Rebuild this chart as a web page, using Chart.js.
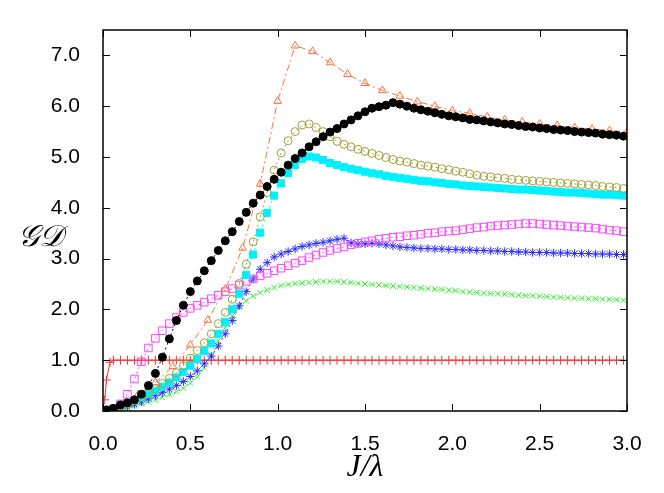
<!DOCTYPE html>
<html>
<head>
<meta charset="utf-8">
<script src="https://cdn.jsdelivr.net/npm/chart.js@4.4.0/dist/chart.umd.min.js"></script>
<style>
  html, body { margin: 0; padding: 0; background: #fff; }
  #wrap { width: 664px; height: 493px; }
</style>
</head>
<body>
<div id="wrap"><canvas id="gdChart" width="664" height="493"></canvas></div>
<script>
"use strict";
// x grid shared by the dense series
const xGrid = [0.02, 0.06, 0.10, 0.14, 0.18, 0.22, 0.26, 0.30, 0.34, 0.38, 0.42, 0.46, 0.50, 0.54, 0.58,
    0.62, 0.66, 0.70, 0.74, 0.78, 0.82, 0.86, 0.90, 0.94, 0.98, 1.02, 1.06, 1.10, 1.14, 1.18,
    1.22, 1.26, 1.30, 1.34, 1.38, 1.42, 1.46, 1.50, 1.54, 1.58, 1.62, 1.66, 1.70, 1.74, 1.78,
    1.82, 1.86, 1.90, 1.94, 1.98, 2.02, 2.06, 2.10, 2.14, 2.18, 2.22, 2.26, 2.30, 2.34, 2.38,
    2.42, 2.46, 2.50, 2.54, 2.58, 2.62, 2.66, 2.70, 2.74, 2.78, 2.82, 2.86, 2.90, 2.94, 2.98];
const xTri = [0.0, 0.1, 0.2, 0.3, 0.4, 0.5, 0.6, 0.7, 0.8, 0.9, 1.0, 1.1, 1.2, 1.3, 1.4, 1.5,
    1.6, 1.7, 1.8, 1.9, 2.0, 2.1, 2.2, 2.3, 2.4, 2.5, 2.6, 2.7, 2.8, 2.9, 3.0];
const xRed = [0.01, 0.02, 0.04, 0.06, 0.10, 0.14, 0.18, 0.22, 0.26, 0.30, 0.34, 0.38, 0.42, 0.46, 0.50, 0.54, 0.58,
    0.62, 0.66, 0.70, 0.74, 0.78, 0.82, 0.86, 0.90, 0.94, 0.98, 1.02, 1.06, 1.10, 1.14, 1.18,
    1.22, 1.26, 1.30, 1.34, 1.38, 1.42, 1.46, 1.50, 1.54, 1.58, 1.62, 1.66, 1.70, 1.74, 1.78,
    1.82, 1.86, 1.90, 1.94, 1.98, 2.02, 2.06, 2.10, 2.14, 2.18, 2.22, 2.26, 2.30, 2.34, 2.38,
    2.42, 2.46, 2.50, 2.54, 2.58, 2.62, 2.66, 2.70, 2.74, 2.78, 2.82, 2.86, 2.90, 2.94, 2.98];

const blackY = [0.02, 0.05, 0.12, 0.16, 0.22, 0.33, 0.50, 0.74, 1.06, 1.42, 1.78, 2.08, 2.35, 2.56, 2.76,
    2.96, 3.16, 3.35, 3.53, 3.73, 3.91, 4.09, 4.25, 4.42, 4.56, 4.70, 4.84, 4.97, 5.08, 5.20,
    5.30, 5.40, 5.49, 5.56, 5.65, 5.73, 5.81, 5.89, 5.96, 5.99, 6.02, 6.07, 6.04, 6.00, 5.96,
    5.93, 5.90, 5.87, 5.84, 5.81, 5.79, 5.77, 5.74, 5.73, 5.71, 5.69, 5.67, 5.65, 5.64, 5.62,
    5.60, 5.59, 5.57, 5.56, 5.54, 5.53, 5.52, 5.50, 5.49, 5.48, 5.47, 5.45, 5.44, 5.43, 5.41];
const triY = [0.0, 0.09, 0.32, 0.56, 0.88, 1.30, 1.79, 2.40, 3.21, 4.47, 6.10, 7.19, 7.08, 6.86, 6.63, 6.45,
    6.31, 6.20, 6.09, 6.00, 5.91, 5.86, 5.79, 5.73, 5.69, 5.65, 5.62, 5.58, 5.55, 5.52, 5.49];
const oliveY = [0.02, 0.05, 0.09, 0.14, 0.20, 0.27, 0.35, 0.44, 0.54, 0.64, 0.75, 0.89, 1.04, 1.19, 1.34,
    1.52, 1.72, 1.94, 2.20, 2.51, 2.89, 3.33, 3.82, 4.30, 4.74, 5.08, 5.32, 5.50, 5.63, 5.65,
    5.58, 5.50, 5.40, 5.31, 5.25, 5.20, 5.15, 5.11, 5.07, 5.03, 4.99, 4.95, 4.92, 4.90, 4.87,
    4.84, 4.82, 4.80, 4.77, 4.75, 4.72, 4.70, 4.67, 4.64, 4.62, 4.61, 4.59, 4.58, 4.56, 4.55,
    4.54, 4.53, 4.52, 4.51, 4.50, 4.49, 4.48, 4.47, 4.46, 4.45, 4.44, 4.42, 4.41, 4.40, 4.38];
const cyanY = [0.02, 0.05, 0.09, 0.14, 0.20, 0.26, 0.33, 0.40, 0.48, 0.56, 0.66, 0.77, 0.89, 1.02, 1.18,
    1.33, 1.52, 1.75, 2.00, 2.31, 2.68, 3.08, 3.51, 3.90, 4.24, 4.48, 4.68, 4.84, 4.96, 5.01,
    4.99, 4.94, 4.88, 4.84, 4.80, 4.77, 4.74, 4.71, 4.68, 4.66, 4.63, 4.61, 4.59, 4.57, 4.55,
    4.53, 4.52, 4.50, 4.49, 4.47, 4.46, 4.44, 4.43, 4.42, 4.41, 4.40, 4.39, 4.38, 4.37, 4.36,
    4.36, 4.35, 4.34, 4.33, 4.32, 4.31, 4.30, 4.30, 4.29, 4.28, 4.27, 4.26, 4.26, 4.25, 4.24];
const magentaY = [0.02, 0.05, 0.14, 0.33, 0.63, 0.97, 1.24, 1.43, 1.58, 1.72, 1.84, 1.94, 2.02, 2.08, 2.14,
    2.21, 2.28, 2.35, 2.41, 2.48, 2.55, 2.60, 2.66, 2.71, 2.76, 2.81, 2.86, 2.91, 2.96, 3.02,
    3.07, 3.12, 3.16, 3.20, 3.23, 3.27, 3.30, 3.33, 3.35, 3.38, 3.40, 3.42, 3.43, 3.45, 3.46,
    3.48, 3.50, 3.51, 3.53, 3.54, 3.55, 3.57, 3.59, 3.61, 3.62, 3.64, 3.65, 3.66, 3.67, 3.68,
    3.69, 3.69, 3.68, 3.67, 3.66, 3.65, 3.64, 3.63, 3.62, 3.61, 3.60, 3.58, 3.56, 3.55, 3.53];
const blueY = [0.01, 0.03, 0.05, 0.08, 0.13, 0.18, 0.24, 0.30, 0.36, 0.43, 0.50, 0.58, 0.68, 0.79, 0.93,
    1.08, 1.28, 1.52, 1.78, 2.07, 2.35, 2.60, 2.79, 2.92, 3.03, 3.09, 3.14, 3.19, 3.24, 3.27,
    3.30, 3.32, 3.35, 3.38, 3.40, 3.31, 3.29, 3.29, 3.30, 3.29, 3.27, 3.25, 3.23, 3.22, 3.21,
    3.20, 3.20, 3.19, 3.19, 3.18, 3.18, 3.17, 3.17, 3.16, 3.16, 3.15, 3.15, 3.14, 3.14, 3.13,
    3.13, 3.12, 3.12, 3.12, 3.11, 3.11, 3.11, 3.10, 3.10, 3.10, 3.09, 3.09, 3.09, 3.08, 3.08];
const greenY = [0.01, 0.02, 0.04, 0.07, 0.10, 0.14, 0.18, 0.22, 0.27, 0.32, 0.38, 0.45, 0.55, 0.67, 0.85,
    1.10, 1.38, 1.64, 1.87, 2.04, 2.17, 2.26, 2.33, 2.38, 2.43, 2.47, 2.49, 2.51, 2.52, 2.53,
    2.54, 2.55, 2.55, 2.55, 2.54, 2.53, 2.51, 2.50, 2.49, 2.48, 2.47, 2.46, 2.45, 2.44, 2.43,
    2.42, 2.41, 2.40, 2.39, 2.38, 2.37, 2.35, 2.34, 2.33, 2.32, 2.31, 2.31, 2.30, 2.29, 2.28,
    2.27, 2.27, 2.26, 2.25, 2.24, 2.24, 2.23, 2.22, 2.22, 2.21, 2.21, 2.20, 2.20, 2.19, 2.18];
const redY = [0.22, 0.61, 0.96, 1.0, 1.0, 1.0, 1.0, 1.0, 1.0, 1.0, 1.0, 1.0, 1.0, 1.0, 1.0, 1.0, 1.0,
    1.0, 1.0, 1.0, 1.0, 1.0, 1.0, 1.0, 1.0, 1.0, 1.0, 1.0, 1.0, 1.0, 1.0, 1.0,
    1.0, 1.0, 1.0, 1.0, 1.0, 1.0, 1.0, 1.0, 1.0, 1.0, 1.0, 1.0, 1.0, 1.0, 1.0,
    1.0, 1.0, 1.0, 1.0, 1.0, 1.0, 1.0, 1.0, 1.0, 1.0, 1.0, 1.0, 1.0, 1.0, 1.0,
    1.0, 1.0, 1.0, 1.0, 1.0, 1.0, 1.0, 1.0, 1.0, 1.0, 1.0, 1.0, 1.0, 1.0, 1.0];

const xTicks = [0.0, 0.5, 1.0, 1.5, 2.0, 2.5, 3.0];
const yTicks = [0.0, 1.0, 2.0, 3.0, 4.0, 5.0, 6.0, 7.0];

function pairUp(xs, ys) {
    return xs.map((x, i) => ({ x: x, y: ys[i] }));
}
function series(xs, ys, color, style, radius, filled, dash) {
    return {
        data: pairUp(xs, ys),
        showLine: true,
        borderColor: color,
        borderWidth: 1,
        borderDash: dash,
        pointStyle: style,
        pointRadius: radius,
        pointHoverRadius: radius,
        pointBorderColor: color,
        pointBorderWidth: 1,
        pointBackgroundColor: filled ? color : 'rgba(0,0,0,0)',
    };
}

const dotted = [2, 3];
const datasets = [
    series(xGrid, blackY, '#000000', 'circle', 4, true, dotted),
    series(xTri, triY, '#ff7043', 'triangle', 4.5, false, [7, 3, 2, 3]),
    series(xGrid, oliveY, '#a0a038', 'circle', 4, false, dotted),
    series(xGrid, cyanY, '#00f0ff', 'rect', 5, true, dotted),
    series(xGrid, magentaY, '#ff44ff', 'rect', 5.3, false, dotted),
    series(xGrid, blueY, '#2a2aff', 'star', 4.2, false, dotted),
    series(xGrid, greenY, '#33ee33', 'crossRot', 4, false, dotted),
    series(xRed, redY, '#ff3333', 'cross', 4.5, false, []),
];

// gnuplot-like frame, inward ticks on all four sides, and the axis titles
const framePlugin = {
    id: 'frame',
    afterDatasetsDraw(chart) {
        const ctx = chart.ctx;
        const a = chart.chartArea;
        const xs = chart.scales.x;
        const ys = chart.scales.y;
        ctx.save();
        ctx.strokeStyle = '#000';
        ctx.lineWidth = 1;
        ctx.beginPath();
        xTicks.forEach(v => {
            const px = Math.round(xs.getPixelForValue(v)) + 0.5;
            ctx.moveTo(px, a.bottom); ctx.lineTo(px, a.bottom - 7);
            ctx.moveTo(px, a.top); ctx.lineTo(px, a.top + 7);
        });
        yTicks.forEach(v => {
            const py = Math.round(ys.getPixelForValue(v)) + 0.5;
            ctx.moveTo(a.left, py); ctx.lineTo(a.left + 7, py);
            ctx.moveTo(a.right, py); ctx.lineTo(a.right - 7, py);
        });
        ctx.stroke();
        ctx.lineWidth = 1.5;
        ctx.strokeRect(a.left, a.top, a.right - a.left, a.bottom - a.top);
        ctx.fillStyle = '#000';
        ctx.textAlign = 'center';
        ctx.textBaseline = 'middle';
        ctx.font = 'italic 32px "Liberation Serif", "DejaVu Serif", serif';
        ctx.fillText('J/λ', (a.left + a.right) / 2, 468);
        ctx.font = 'italic 30px "DejaVu Serif", "DejaVu Sans", serif';
        ctx.fillText('𝒢𝒟', 40, 238);
        ctx.restore();
    }
};

const tickFont = { family: '"Liberation Sans", Arial, sans-serif', size: 21 };

new Chart(document.getElementById('gdChart'), {
    type: 'scatter',
    data: { datasets: datasets },
    options: {
        responsive: false,
        animation: false,
        devicePixelRatio: 1,
        layout: { padding: { left: 0, right: 37, top: 30, bottom: 0 } },
        plugins: { legend: { display: false }, tooltip: { enabled: false } },
        scales: {
            x: {
                type: 'linear',
                min: 0,
                max: 3,
                grid: { display: false },
                border: { display: false },
                afterFit: scale => { scale.height = 82; },
                afterBuildTicks: scale => { scale.ticks = xTicks.map(v => ({ value: v })); },
                ticks: { color: '#000', font: tickFont, padding: 13, callback: v => v.toFixed(1) },
            },
            y: {
                type: 'linear',
                min: 0,
                max: 7.5,
                grid: { display: false },
                border: { display: false },
                afterFit: scale => { scale.width = 103; },
                afterBuildTicks: scale => { scale.ticks = yTicks.map(v => ({ value: v })); },
                ticks: { color: '#000', font: tickFont, padding: 15, callback: v => v.toFixed(1) },
            },
        },
    },
    plugins: [framePlugin],
});
</script>
</body>
</html>
